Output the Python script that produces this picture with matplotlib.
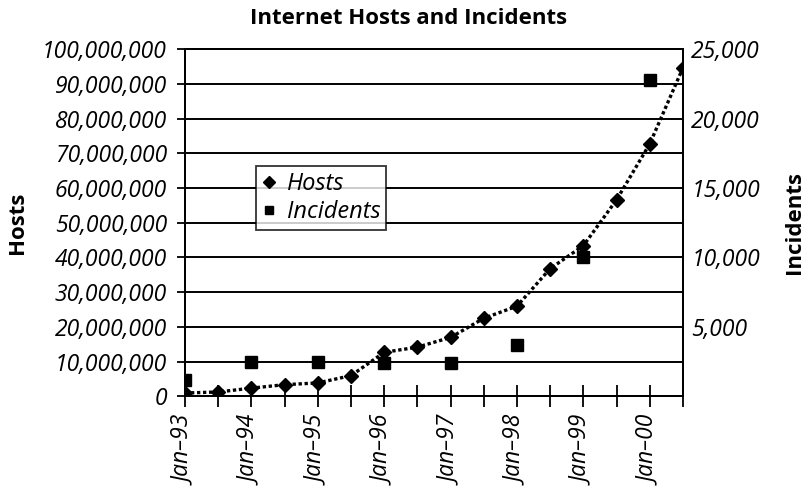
import matplotlib
matplotlib.use("Agg")
import matplotlib.pyplot as plt
from matplotlib.ticker import FuncFormatter

# half-year steps from Jan-93 to Jul-00
periods = ["Jan-93", "Jul-93", "Jan-94", "Jul-94", "Jan-95", "Jul-95", "Jan-96", "Jul-96",
           "Jan-97", "Jul-97", "Jan-98", "Jul-98", "Jan-99", "Jul-99", "Jan-00", "Jul-00"]
hosts = [1.0e6, 1.3e6, 2.4e6, 3.4e6, 3.9e6, 6.0e6, 12.7e6, 14.2e6,
         17.0e6, 22.5e6, 26.0e6, 36.8e6, 43.4e6, 56.6e6, 72.7e6, 94.6e6]

incident_periods = ["Jan-93", "Jan-94", "Jan-95", "Jan-96", "Jan-97", "Jan-98", "Jan-99", "Jan-00"]
incidents = [1200, 2450, 2450, 2400, 2400, 3700, 10000, 22800]

# only January ticks carry a label
tick_labels = [p.replace("-", "\u2013") if p.startswith("Jan") else "" for p in periods]

plt.rcParams['font.family'] = ['Open Sans', 'DejaVu Sans']

fig = plt.figure(figsize=(8.05, 4.94), dpi=100)
ax = fig.add_axes([0.2298, 0.1974, 0.6186, 0.7034])
ax2 = ax.twinx()

xh = [periods.index(p) for p in periods]
xi = [periods.index(p) for p in incident_periods]

ax.set_xlim(0, 15)
ax.set_ylim(0, 100e6)
ax2.set_ylim(0, 25000)

for v in range(10_000_000, 100_000_001, 10_000_000):
    ax.axhline(v, color='black', lw=1.4, zorder=1)

l1, = ax.plot(xh, hosts, color='black', ls=(0, (1, 0.8)), lw=2.4,
              marker='D', ms=7.5, mfc='black', mec='black', zorder=3, label='Hosts')
l2, = ax2.plot(xi, incidents, ls='none', marker='s', ms=8.5,
               mfc='black', mec='black', zorder=3, label='Incidents')
ax.set_zorder(ax2.get_zorder() + 1)
ax.patch.set_visible(False)

# left axis
ax.set_yticks(range(0, 100_000_001, 10_000_000))
ax.yaxis.set_major_formatter(FuncFormatter(lambda v, p: f"{int(v):,}"))
ax.tick_params(axis='y', direction='out', length=6, width=1.3, labelsize=16.5, pad=7)
for t in ax.get_yticklabels():
    t.set_style('italic')

# x axis
ax.set_xticks(range(len(periods)))
ax.set_xticklabels(tick_labels, rotation=90, fontsize=16.5, style='italic')
ax.tick_params(axis='x', direction='inout', length=16, width=1.3, pad=6.5)

# right axis
ax2.set_yticks(range(5000, 25001, 5000))
ax2.yaxis.set_major_formatter(FuncFormatter(lambda v, p: f"{int(v):,}"))
ax2.tick_params(axis='y', length=0, labelsize=16.5, pad=6)
for t in ax2.get_yticklabels():
    t.set_style('italic')

for a in (ax, ax2):
    for s in a.spines.values():
        s.set_linewidth(1.4)
        s.set_color('black')

ax.set_ylabel("Hosts", fontsize=16, fontweight='bold')
ax.yaxis.set_label_coords(-0.315, 0.5)
ax2.set_ylabel("Incidents", fontsize=16, fontweight='bold')
ax2.yaxis.set_label_coords(1.203, 0.5)
fig.suptitle("Internet Hosts and Incidents", fontsize=16, fontweight='bold',
             x=0.508, y=0.983, va='top')

leg = ax.legend([l1, l2], ["Hosts", "Incidents"], loc='upper left',
                bbox_to_anchor=(0.1426, 0.663), frameon=True, fancybox=False,
                prop={'style': 'italic', 'size': 17}, handlelength=0.6,
                handletextpad=0.45, borderpad=0.25, labelspacing=0.18,
                borderaxespad=0)
leg.get_frame().set_edgecolor('black')
leg.get_frame().set_linewidth(1.3)
for h in leg.legend_handles:
    h.set_linestyle('none')
    h.set_markersize(6)

fig.savefig("out.png", dpi=100, facecolor='white')
